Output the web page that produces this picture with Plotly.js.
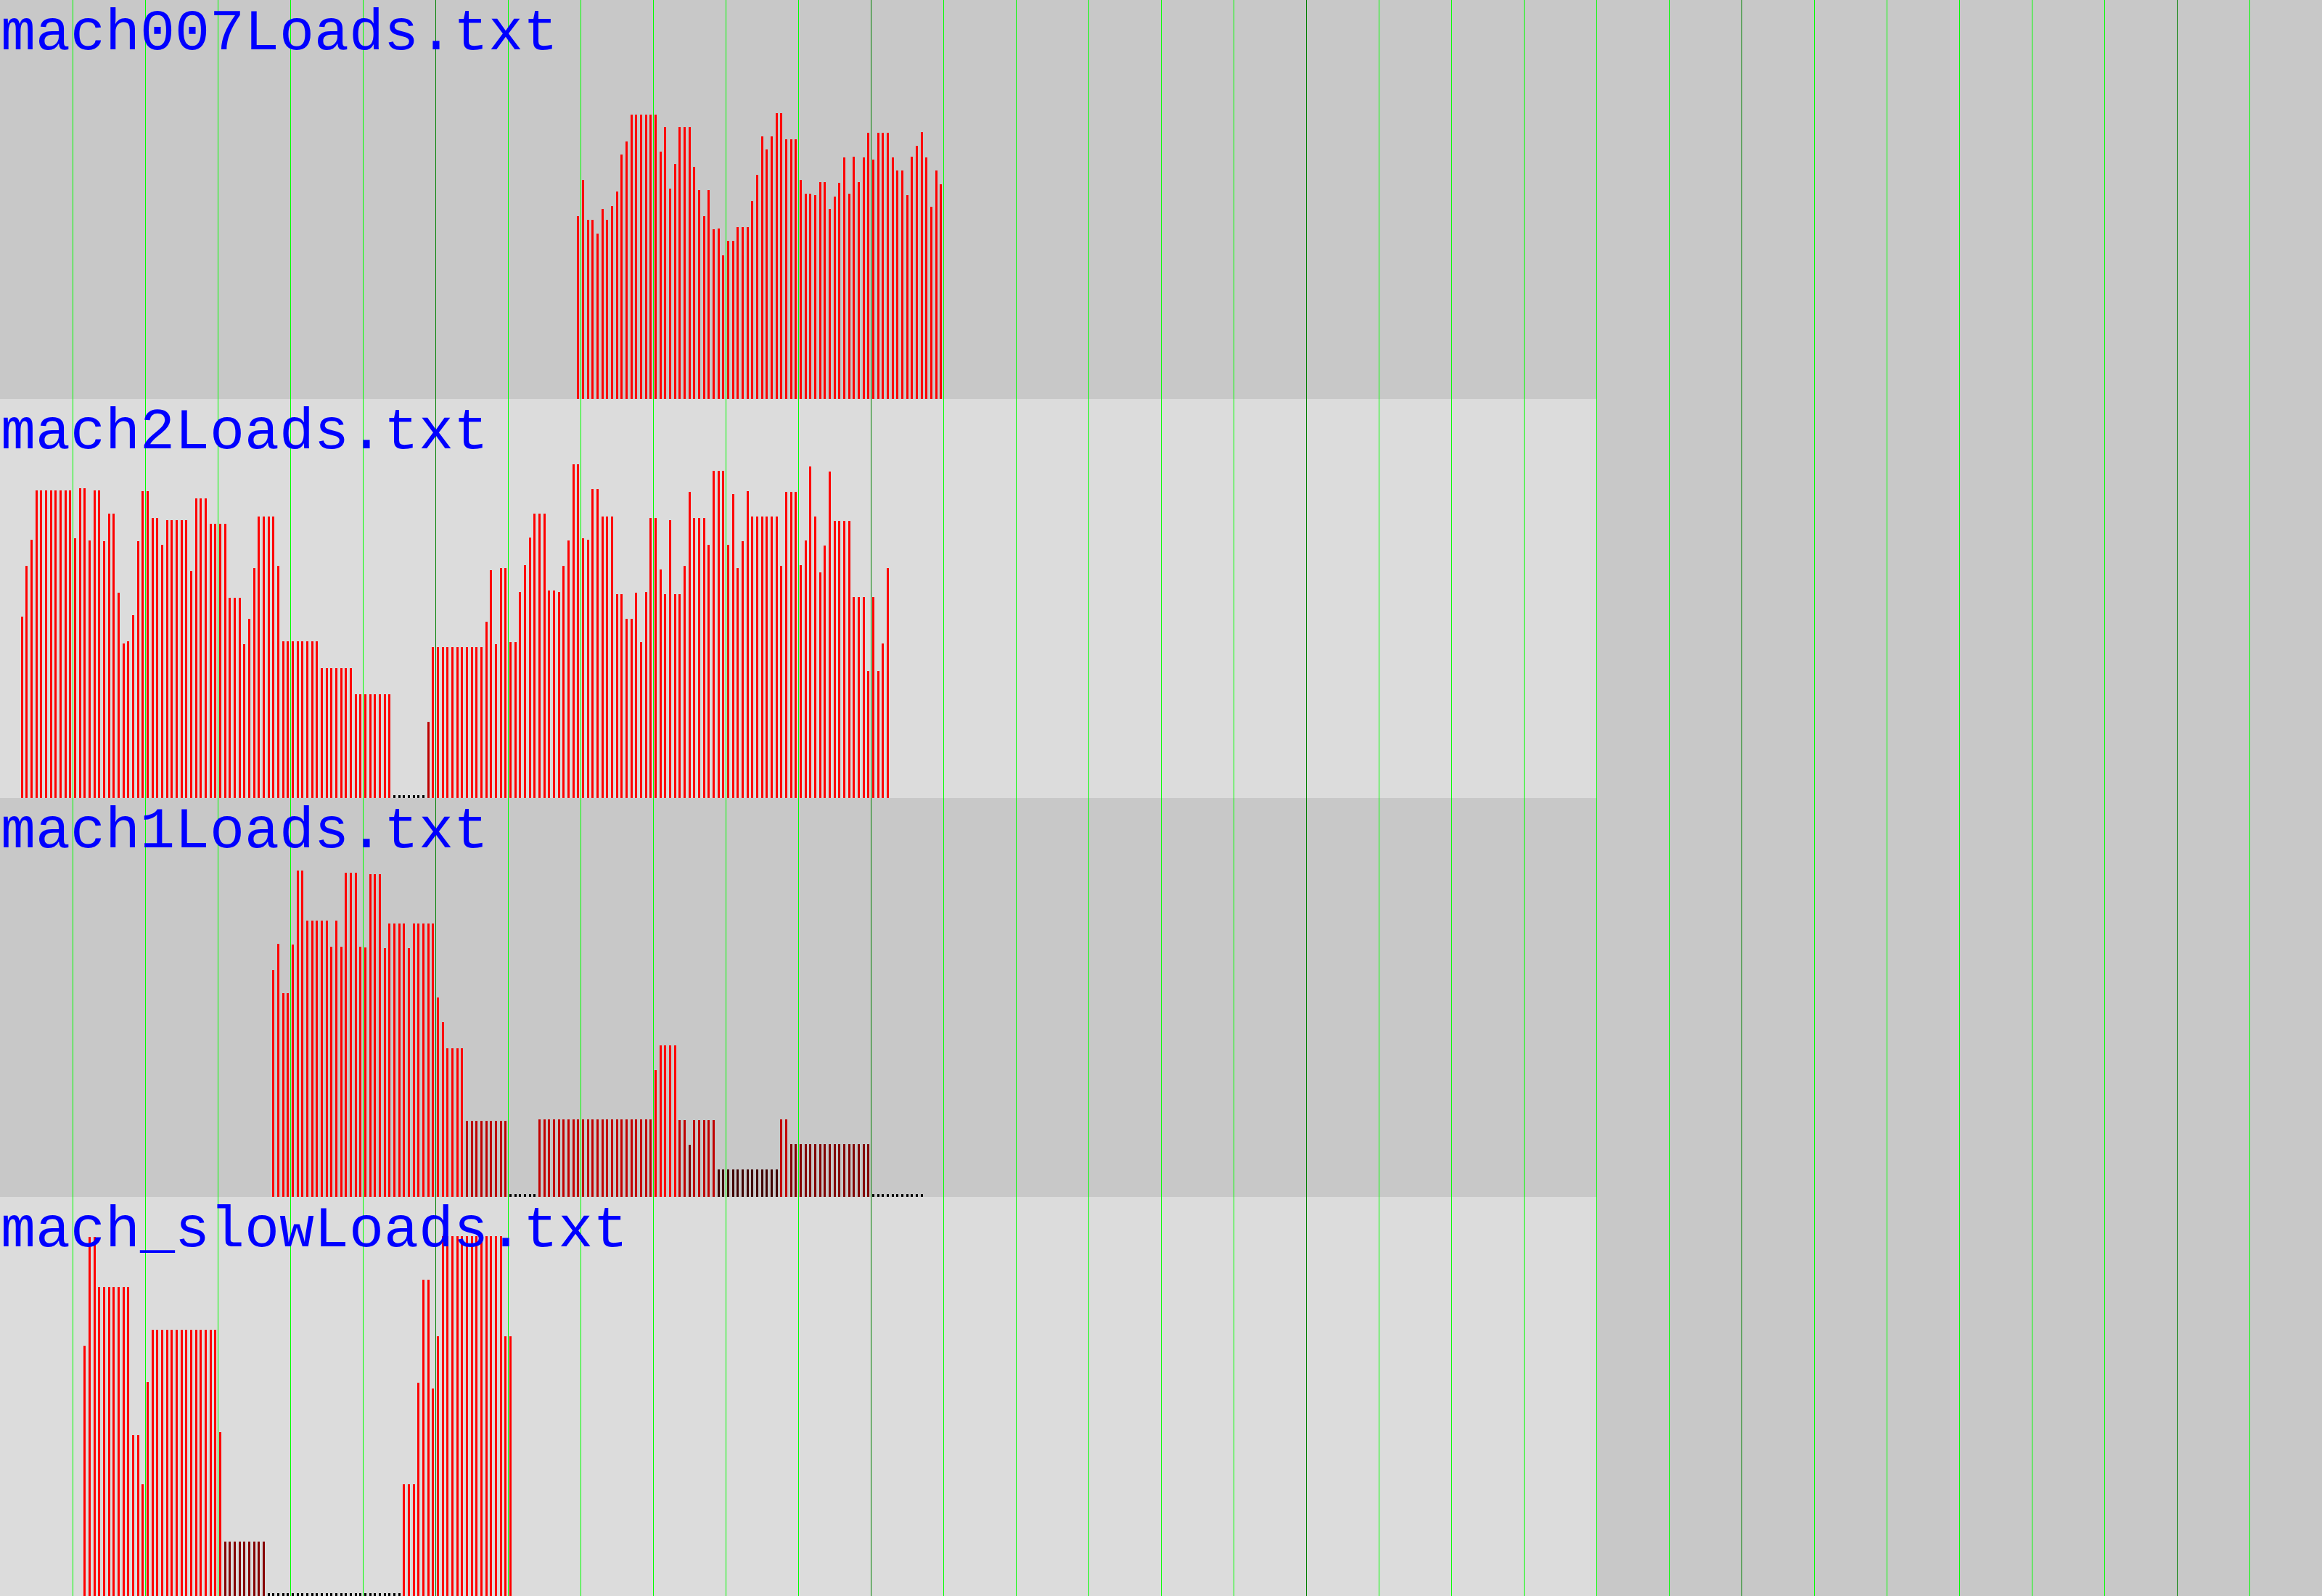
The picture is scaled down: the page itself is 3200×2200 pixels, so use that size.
<!DOCTYPE html>
<html>
<head>
<meta charset="utf-8">
<script src="https://cdn.plot.ly/plotly-3.0.1.min.js"></script>
<style>
  html, body { margin: 0; padding: 0; background: #c8c8c8; }
  #chart { width: 3200px; height: 2200px; }
</style>
</head>
<body>
<div id="chart"></div>
<script>
// ---------------- data ----------------
// one bar per sampling slot; x = slot index, value = load
const machines = ["mach007Loads.txt", "mach2Loads.txt", "mach1Loads.txt", "mach_slowLoads.txt"];
const startSlot = [119, 4, 56, 17];

const mach007Loads = [1.82, 2.19, 1.79, 1.79, 1.65, 1.90, 1.79, 1.93, 2.07, 2.45,
  2.58, 2.85, 2.85, 2.85, 2.85, 2.85, 2.85, 2.48, 2.73, 2.10,
  2.35, 2.73, 2.73, 2.73, 2.32, 2.09, 1.82, 2.09, 1.69, 1.70,
  1.43, 1.57, 1.57, 1.71, 1.71, 1.71, 1.98, 2.24, 2.63, 2.50,
  2.63, 2.87, 2.87, 2.60, 2.60, 2.60, 2.19, 2.05, 2.05, 2.04,
  2.17, 2.17, 1.90, 2.02, 2.16, 2.42, 2.05, 2.43, 2.17, 2.42,
  2.67, 2.40, 2.67, 2.67, 2.67, 2.42, 2.29, 2.29, 2.04, 2.43,
  2.54, 2.68, 2.42, 1.92, 2.29, 2.15];

const mach2Loads = [1.81, 2.32, 2.59, 3.09, 3.09, 3.09, 3.09, 3.09, 3.09, 3.09,
  3.09, 2.60, 3.11, 3.11, 2.58, 3.09, 3.09, 2.57, 2.85, 2.85,
  2.05, 1.54, 1.56, 1.82, 2.57, 3.08, 3.08, 2.81, 2.81, 2.54,
  2.79, 2.79, 2.79, 2.79, 2.79, 2.27, 3.01, 3.01, 3.01, 2.75,
  2.75, 2.75, 2.75, 2.00, 2.00, 2.00, 1.53, 1.79, 2.30, 2.82,
  2.82, 2.82, 2.82, 2.32, 1.56, 1.56, 1.56, 1.56, 1.56, 1.56,
  1.56, 1.56, 1.29, 1.29, 1.29, 1.29, 1.29, 1.29, 1.29, 1.02,
  1.02, 1.02, 1.02, 1.02, 1.02, 1.02, 1.02, 0, 0, 0,
  0, 0, 0, 0, 0.74, 1.50, 1.50, 1.50, 1.50, 1.50,
  1.50, 1.50, 1.50, 1.50, 1.50, 1.50, 1.76, 2.28, 1.53, 2.30,
  2.30, 1.55, 1.55, 2.06, 2.33, 2.61, 2.85, 2.85, 2.85, 2.07,
  2.07, 2.06, 2.32, 2.58, 3.35, 3.35, 2.60, 2.59, 3.10, 3.10,
  2.82, 2.82, 2.82, 2.04, 2.04, 1.79, 1.79, 2.05, 1.55, 2.06,
  2.81, 2.81, 2.29, 2.04, 2.79, 2.04, 2.04, 2.32, 3.07, 2.81,
  2.81, 2.81, 2.54, 3.29, 3.29, 3.29, 2.54, 3.05, 2.30, 2.57,
  3.08, 2.82, 2.82, 2.82, 2.82, 2.82, 2.82, 2.32, 3.07, 3.07,
  3.07, 2.33, 2.58, 3.33, 2.82, 2.26, 2.53, 3.28, 2.78, 2.78,
  2.78, 2.78, 2.01, 2.01, 2.01, 1.26, 2.01, 1.26, 1.54, 2.30];

const mach1Loads = [2.27, 2.54, 2.04, 2.04, 2.53, 3.28, 3.28, 2.77, 2.77, 2.77,
  2.77, 2.77, 2.51, 2.77, 2.51, 3.26, 3.26, 3.26, 2.51, 2.50,
  3.24, 3.24, 3.24, 2.49, 2.74, 2.74, 2.74, 2.74, 2.49, 2.74,
  2.74, 2.74, 2.74, 2.74, 1.99, 1.74, 1.48, 1.48, 1.48, 1.48,
  0.74, 0.74, 0.74, 0.74, 0.74, 0.74, 0.74, 0.74, 0.74, 0,
  0, 0, 0, 0, 0, 0.76, 0.76, 0.76, 0.76, 0.76,
  0.76, 0.76, 0.76, 0.76, 0.76, 0.76, 0.76, 0.76, 0.76, 0.76,
  0.76, 0.76, 0.76, 0.76, 0.76, 0.76, 0.76, 0.76, 0.76, 1.26,
  1.51, 1.51, 1.51, 1.51, 0.75, 0.75, 0.50, 0.75, 0.75, 0.75,
  0.75, 0.75, 0.25, 0.25, 0.25, 0.25, 0.25, 0.25, 0.25, 0.25,
  0.25, 0.25, 0.25, 0.25, 0.25, 0.76, 0.76, 0.51, 0.51, 0.51,
  0.51, 0.51, 0.51, 0.51, 0.51, 0.51, 0.51, 0.51, 0.51, 0.51,
  0.51, 0.51, 0.51, 0.51, 0, 0, 0, 0, 0, 0,
  0, 0, 0, 0, 0];

const machSlowLoads = [2.51, 3.61, 3.61, 3.10, 3.10, 3.10, 3.10, 3.10, 3.10, 3.10,
  1.60, 1.60, 1.10, 2.14, 2.67, 2.67, 2.67, 2.67, 2.67, 2.67,
  2.67, 2.67, 2.67, 2.67, 2.67, 2.67, 2.67, 2.67, 1.63, 0.52,
  0.52, 0.52, 0.52, 0.52, 0.52, 0.52, 0.52, 0.52, 0, 0,
  0, 0, 0, 0, 0, 0, 0, 0, 0, 0,
  0, 0, 0, 0, 0, 0, 0, 0, 0, 0,
  0, 0, 0, 0, 0, 0, 1.10, 1.10, 1.10, 2.13,
  3.18, 3.18, 2.07, 2.60, 3.62, 3.62, 3.62, 3.62, 3.62, 3.62,
  3.62, 3.62, 3.62, 3.62, 3.62, 3.62, 3.62, 2.60, 2.60];

const loads = [mach007Loads, mach2Loads, mach1Loads, machSlowLoads];

// time window shown for each machine (slots), full axis extent (slots)
const windowSlots = 330;
const axisSlots = 480;
const minorStep = 15;   // slots per grid line
const majorStep = 90;   // slots per dark grid line

// ---------------- styling / build ----------------
const PX_PER_LOAD = 136;           // vertical scale
const PANEL_PX = 550;
const STUB = 4 / PX_PER_LOAD;      // zero load still shows a small stub
const yTop = (PANEL_PX - 4) / PX_PER_LOAD;
const panelBg = ["#c8c8c8", "#dcdcdc", "#c8c8c8", "#dcdcdc"];

function barColor(v) {
  const r = Math.round(255 * Math.max(0, Math.min(1, v)));
  return "rgb(" + r + ",0,0)";
}

const traces = [];
const layout = {
  width: 3200, height: 2200,
  margin: {l: 0, r: 0, t: 0, b: 0, pad: 0},
  paper_bgcolor: "#c8c8c8",
  plot_bgcolor: "#c8c8c8",
  showlegend: false,
  bargap: 0,
  annotations: [],
  shapes: []
};

const n = machines.length;
for (let p = 0; p < n; p++) {
  const suffix = p === 0 ? "" : String(p + 1);
  const vals = loads[p];
  traces.push({
    type: "bar",
    x: vals.map((v, i) => startSlot[p] + i + 0.5),
    y: vals.map(v => v + STUB),
    base: -STUB,
    width: 0.45,
    marker: {color: vals.map(barColor), line: {width: 0}},
    xaxis: "x" + suffix,
    yaxis: "y" + suffix,
    hoverinfo: "skip"
  });
  const top = 1 - p / n, bottom = 1 - (p + 1) / n;
  layout["xaxis" + suffix] = {
    domain: [0, 1], range: [0, axisSlots], anchor: "y" + suffix,
    showticklabels: false, ticks: "", zeroline: false, showline: false,
    showgrid: true, tick0: 0, dtick: majorStep, gridcolor: "#008000", gridwidth: 1,
    minor: {tick0: 0, dtick: minorStep, showgrid: true, gridcolor: "#00ff00", gridwidth: 1, ticks: ""},
    fixedrange: true
  };
  layout["yaxis" + suffix] = {
    domain: [bottom, top], range: [-STUB, yTop], anchor: "x" + suffix,
    showticklabels: false, ticks: "", zeroline: false, showline: false, showgrid: false,
    fixedrange: true
  };
  if (panelBg[p] !== "#c8c8c8") {
    layout.shapes.push({
      type: "rect", layer: "below",
      xref: "x" + suffix, yref: "y" + suffix + " domain",
      x0: 0, x1: windowSlots, y0: 0, y1: 1,
      fillcolor: panelBg[p], line: {width: 0}
    });
  }
  layout.annotations.push({
    text: machines[p], showarrow: false,
    xref: "paper", yref: "paper", x: 0, y: top,
    xanchor: "left", yanchor: "top", borderpad: 0, yshift: 0,
    font: {family: "'Courier New', 'Liberation Mono', monospace", size: 80, color: "#0000ff"}
  });
}

Plotly.newPlot("chart", traces, layout, {staticPlot: true, displayModeBar: false});
</script>
</body>
</html>
